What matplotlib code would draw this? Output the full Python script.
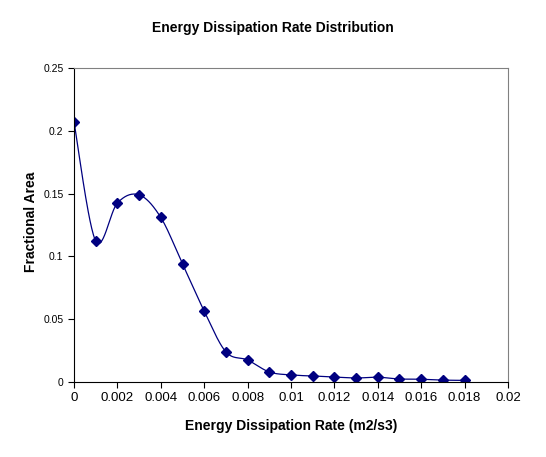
import matplotlib
matplotlib.use("Agg")
import matplotlib.pyplot as plt
import numpy as np

x_vals = [0, 0.001, 0.002, 0.003, 0.004, 0.005, 0.006, 0.007, 0.008, 0.009,
          0.010, 0.011, 0.012, 0.013, 0.014, 0.015, 0.016, 0.017, 0.018]
y_vals = [0.207, 0.1123, 0.1425, 0.149, 0.131, 0.094, 0.0565, 0.024, 0.0175, 0.008,
          0.0056, 0.0048, 0.004, 0.0032, 0.0038, 0.0024, 0.0022, 0.0015, 0.0013]
x_ticks = [0, 0.002, 0.004, 0.006, 0.008, 0.01, 0.012, 0.014, 0.016, 0.018, 0.02]
x_tick_labels = ["0", "0.002", "0.004", "0.006", "0.008", "0.01", "0.012", "0.014", "0.016", "0.018", "0.02"]
y_ticks = [0, 0.05, 0.1, 0.15, 0.2, 0.25]
y_tick_labels = ["0", "0.05", "0.1", "0.15", "0.2", "0.25"]

plt.rcParams['font.family'] = ['Liberation Sans', 'DejaVu Sans']

def smooth(xs, ys, n=30):
    xs = np.asarray(xs, float); ys = np.asarray(ys, float)
    px = np.concatenate([[xs[0]], xs, [xs[-1]]])
    py = np.concatenate([[ys[0]], ys, [ys[-1]]])
    ox, oy = [], []
    t = np.linspace(0, 1, n)
    for i in range(1, len(px) - 2):
        p0 = np.array([px[i], py[i]]); p3 = np.array([px[i+1], py[i+1]])
        c1 = p0 + (np.array([px[i+1], py[i+1]]) - np.array([px[i-1], py[i-1]])) / 6
        c2 = p3 - (np.array([px[i+2], py[i+2]]) - np.array([px[i], py[i]])) / 6
        b = ((1-t)**3)[:, None]*p0 + (3*(1-t)**2*t)[:, None]*c1 + (3*(1-t)*t**2)[:, None]*c2 + (t**3)[:, None]*p3
        ox.extend(b[:, 0]); oy.extend(b[:, 1])
    return ox, oy

fig = plt.figure(figsize=(5.46, 4.57), dpi=100)
ax = fig.add_axes([74/546, 1-382/457, (508-74)/546, (382-68)/457])
sx, sy = smooth(x_vals, y_vals)
ax.plot(sx, sy, color='#000080', lw=0.9)
ax.plot(x_vals, y_vals, linestyle='none', marker='D', color='#000080', markersize=5.5)
ax.set_xlim(0, 0.02)
ax.set_ylim(0, 0.25)
ax.set_xticks(x_ticks)
ax.set_xticklabels(x_tick_labels, fontsize=9.5)
ax.set_yticks(y_ticks)
ax.set_yticklabels(y_tick_labels, fontsize=7.5)
ax.tick_params(direction='out', length=4, width=0.8, colors='black')
ax.spines['top'].set_color('#808080')
ax.spines['right'].set_color('#808080')
ax.spines['left'].set_color('black')
ax.spines['bottom'].set_color('black')
ax.set_xlabel('Energy Dissipation Rate (m2/s3)', fontsize=10, fontweight='bold')
ax.xaxis.set_label_coords(0.5, -(426-382)/314)
ax.set_ylabel('Fractional Area', fontsize=10, fontweight='bold')
ax.yaxis.set_label_coords((31-74)/434, (382-222)/314)
ax.xaxis.label.set_va('center')
ax.yaxis.label.set_va('center')
fig.text(273/546, 1-28/457, 'Energy Dissipation Rate Distribution', ha='center', va='center',
         fontsize=10, fontweight='bold')
fig.savefig('out.png', dpi=100)
